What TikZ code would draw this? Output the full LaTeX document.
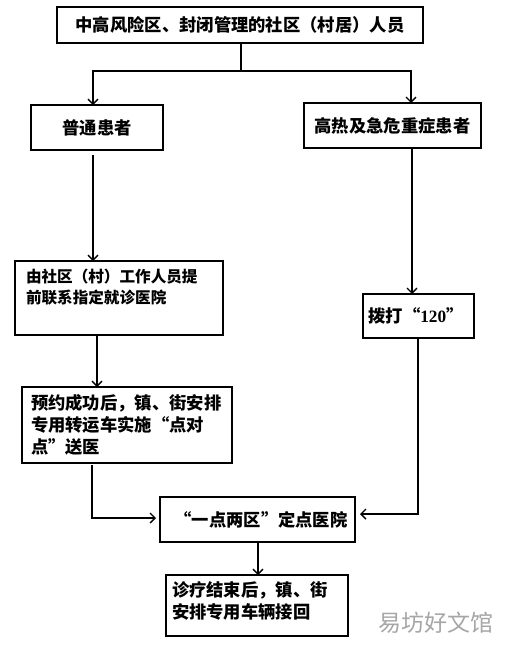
\documentclass[tikz,border=0pt]{standalone}
\usepackage{fontspec}
\setmainfont{Liberation Serif}
\newfontfamily\cjk{Noto Sans CJK SC}
\usetikzlibrary{arrows.meta,calc}
\tikzset{
  box/.style={draw=black, line width=1.8pt, inner sep=0pt, outer sep=0pt, fill=white},
  txt/.style={inner sep=0pt, outer sep=0pt, font=\cjk\bfseries\fontsize{17.3}{22}\selectfont, align=left},
  conn/.style={draw=black, line width=1.4pt},
  arr/.style={conn, -{Straight Barb[length=5pt,width=10pt]}},
}
\begin{document}
\begin{tikzpicture}[x=1pt,y=-1pt]
\useasboundingbox[fill=white] (0,0) rectangle (524,656);
% boxes
\node[box, minimum width=366pt, minimum height=36pt] (top) at (240,25) {};
\node[txt] (ttop) at (240,25) {中高风险区、封闭管理的社区（村居）人员};
\node[box, minimum width=132pt, minimum height=45pt] (b1) at (97,127.5) {};
\node[txt] (t1) at (97,127.5) {普通患者};
\node[box, minimum width=177pt, minimum height=45pt] (b2) at (392.5,125.5) {};
\node[txt] (t2) at (392.5,125.5) {高热及急危重症患者};
\node[box, minimum width=208pt, minimum height=74pt, anchor=north west] (b3) at (15,261) {};
\node[txt, anchor=north west, font=\cjk\bfseries\fontsize{15.6}{21}\selectfont] (t3) at (26,269) {由社区（村）工作人员提\\前联系指定就诊医院};
\node[box, minimum width=111pt, minimum height=44pt] (b4) at (418.5,316) {};
\node[txt] (t4) at (416,316) {拨打“{\rmfamily\bfseries 120}”};
\node[box, minimum width=210pt, minimum height=76pt, anchor=north west] (b5) at (22,387) {};
\node[txt, anchor=north west] (t5) at (31,394) {预约成功后，镇、街安排\\专用转运车实施“点对\\点”送医};
\node[box, minimum width=195pt, minimum height=45pt] (b6) at (257.5,519.5) {};
\node[txt] (t6) at (261,519.5) {“一点两区”定点医院};
\node[box, minimum width=182pt, minimum height=61pt, anchor=north west] (b7) at (166,575) {};
\node[txt, anchor=north west] (t7) at (172,582) {诊疗结束后，镇、街\\安排专用车辆接回};
% watermark
\node[inner sep=0pt, text=gray!70, font=\cjk\fontsize{23}{23}\selectfont] (wm) at (436,623) {易坊好文馆};
% x positions of the connectors
\coordinate (xL) at (93,0);
\coordinate (xR) at (411,0);
\coordinate (xR2) at (412,0);
\coordinate (x3) at (97,0);
\coordinate (x5) at (92,0);
\coordinate (x4) at (418,0);
\coordinate (x6) at (258,0);
\coordinate (j) at ($(top.south)+(1,28)$);
% connectors
\draw[conn] (j |- top.south) -- (j);
\draw[arr] (j) -| (xL |- b1.north);
\draw[arr] (j) -| (xR |- b2.north);
\draw[arr] ($(xL |- b1.south)+(0,5)$) -- (xL |- b3.north);
\draw[arr] (xR2 |- b2.south) -- (xR2 |- b4.north);
\draw[arr] (x3 |- b3.south) -- (x3 |- b5.north);
\draw[arr, shorten >=4pt] ($(x5 |- b5.south)+(0,2)$) |- ($(b6.west)+(0,-1.5)$);
\draw[arr, shorten >=5pt] (x4 |- b4.south) |- ($(b6.east)+(0,-5.5)$);
\draw[arr] (x6 |- b6.south) -- (x6 |- b7.north);
\end{tikzpicture}
\end{document}
